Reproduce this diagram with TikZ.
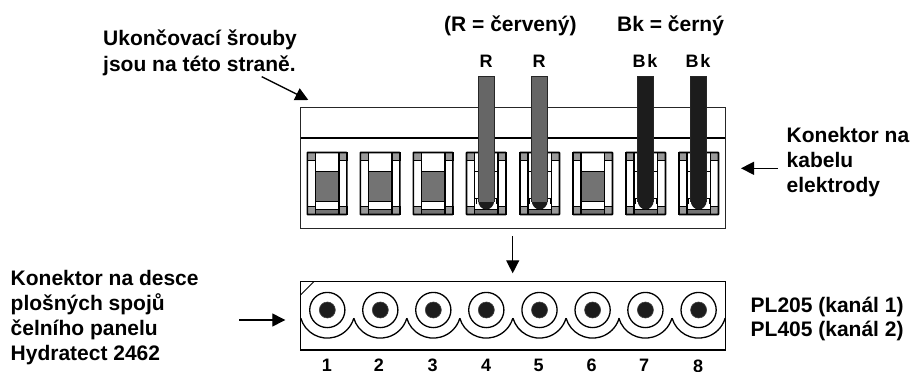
\documentclass[tikz,border=0pt]{standalone}
\usepackage{fontspec}
\setmainfont{Liberation Sans}
\usetikzlibrary{arrows.meta}
\definecolor{redwire}{gray}{0.4}
\definecolor{blackwire}{gray}{0.11}
\definecolor{cellgray}{gray}{0.45}
\definecolor{cornergray}{gray}{0.6}
\tikzset{
  x=1pt,y=-1pt,
  lbl/.style={font=\fontsize{21}{24.7}\selectfont\bfseries,align=left,anchor=base west,inner sep=0pt},
  lblb/.style={font=\fontsize{21}{26}\selectfont\bfseries,align=left,anchor=base west,inner sep=0pt},
  pin/.style={font=\fontsize{18}{20}\selectfont\bfseries,anchor=base,inner sep=0pt},
  arr/.style={line width=1.3pt,-{Triangle[length=13pt,width=13pt]}},
  heavy/.style={line width=1.6pt},
}
\newcommand{\cellbase}[1]{%
  \begin{scope}[shift={(#1,152.5)}]
    \fill[white] (0,0) rectangle (39.5,62);
    \fill[cellgray] (8,57) rectangle (31.5,62);
    \foreach \cx/\cy in {0/0,31.5/0,0/54,31.5/54}{
      \fill[cornergray] (\cx,\cy) rectangle +(8,8);
      \draw[line width=1.4pt] (\cx,\cy) rectangle +(8,8);
    }
    \draw[line width=1.5pt] (8,0) -- (8,62) (31.5,0) -- (31.5,62);
    \draw[line width=1.3pt] (8,57) -- (31.5,57);
    \draw[heavy,rounded corners=0.5pt] (0,0) rectangle (39.5,62);
  \end{scope}}
\newcommand{\cellplug}[1]{%
  \begin{scope}[shift={(#1,152.5)}]
    \draw[line width=1.5pt,fill=cellgray] (8,19) rectangle (31.5,49);
  \end{scope}}
\newcommand{\cellwire}[2]{%
  \begin{scope}[shift={(#1,152.5)}]
    \draw[line width=1.2pt] (8,19) -- (31.5,19) (8,46) -- (31.5,46);
    \draw[line width=1pt] (9.5,46) -- (9.5,51) (30,46) -- (30,51);
    \fill[blackwire] (11.7,48) -- (27.7,48) arc[start angle=0,end angle=180,x radius=8,y radius=9] -- cycle;
    \fill[#2] (11.7,-75.8) rectangle (27.7,49);
    \draw[line width=1pt,draw=black!85] (11.7,49) -- (11.7,-75.8) -- (27.7,-75.8) -- (27.7,49);
  \end{scope}}
\newcommand{\socket}[1]{%
  \draw[line width=1.3pt] (#1,310) circle[radius=17.6];
  \fill[blackwire,draw=black!75,line width=.6pt] (#1,310) circle[radius=8];}
\begin{document}
\begin{tikzpicture}
\useasboundingbox (0,0) rectangle (910,372);
% upper connector
\draw[line width=1.3pt,draw=black!85] (300.5,107.3) rectangle (725.2,228.5);
\draw[heavy] (300.5,138) -- (725.2,138);
\foreach \x in {307.3,360.3,413.3,466.5,520,573,626,679}{\cellbase{\x}}
\foreach \x in {307.3,360.3,413.3,573}{\cellplug{\x}}
\cellwire{466.5}{redwire}
\cellwire{520}{redwire}
\cellwire{626}{blackwire}
\cellwire{679}{blackwire}
% lower connector
\draw[heavy] (300.5,281.5) rectangle (725.3,349.7);
\draw[line width=1pt] (300.5,295) -- (314,281.5);
\foreach \x in {327.3,380.3,433.3,486.3,539.5,592.6,645.4,698.6}{
  \socket{\x}
  \draw[line width=1.3pt] (\x,310.5) ++(163.8:27.6) arc[start angle=163.8,end angle=16.2,radius=27.6];
}
% pin labels
\foreach \x/\t/\y in {327/1/371,379/2/371,432.7/3/371,486/4/371,538.7/5/371,591.7/6/371,644/7/371,698/8/372.5}{
  \node[pin] (p\t) at (\x,\y) {\t};
}
\node[pin] (r1) at (486,67.7) {R};
\node[pin] (r2) at (539,67.7) {R};
\node[pin] (b1) at (645,67.7) {B\kern1.8pt k};
\node[pin] (b2) at (698,67.7) {B\kern1.8pt k};
% labels
\node[lbl] (l1) at (444,31) {(R = červený)};
\node[lbl] (l2) at (617,31) {Bk = černý};
\node[lblb,anchor=north west] (l3) at (103,30) {Ukončovací šrouby\\jsou na této straně.};
\node[lbl,anchor=north west] (l4) at (786.5,127.5) {Konektor na\\kabelu\\elektrody};
\node[lbl,anchor=north west] (l5) at (10.5,270.5) {Konektor na desce\\plošných spojů\\čelního panelu\\Hydratect 2462};
\node[lbl,anchor=north west] (l6) at (750.5,296.5) {PL205 (kanál 1)\\PL405 (kanál 2)};
% arrows
\coordinate (a1s) at (261.7,76.7); \coordinate (a1e) at (308.3,100);
\draw[arr] (a1s) -- (a1e);
\coordinate (a2s) at (777.7,168.3); \coordinate (a2e) at (741,168.3);
\draw[arr] (a2s) -- (a2e);
\coordinate (a3s) at (512.7,236); \coordinate (a3e) at (512.7,273.3);
\draw[arr] (a3s) -- (a3e);
\coordinate (a4s) at (239.3,320); \coordinate (a4e) at (285.3,320);
\draw[arr] (a4s) -- (a4e);
\end{tikzpicture}
\end{document}
